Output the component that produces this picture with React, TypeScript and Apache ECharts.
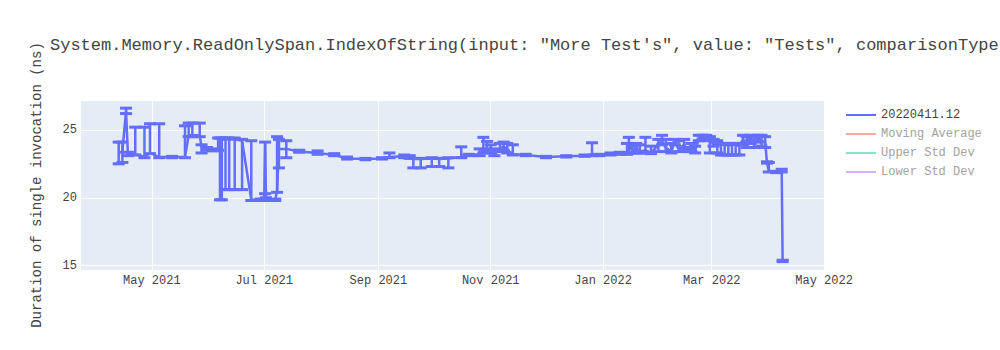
import React, { useEffect, useRef } from 'react';
import * as echarts from 'echarts';

const FONT = '"Liberation Mono", "Courier New", monospace';
const TITLE = 'System.Memory.ReadOnlySpan.IndexOfString(input: "More Test\'s", value: "Tests", comparisonType';
const Y_TITLE = 'Duration of single invocation (ns)';
const SERIES_NAMES = ['20220411.12', 'Moving Average', 'Upper Std Dev', 'Lower Std Dev'];
const SERIES_COLORS = ['#636efa', '#f7aa9d', '#80e6ca', '#d5b1fc'];
const MONTHS = ['Jan', 'Feb', 'Mar', 'Apr', 'May', 'Jun', 'Jul', 'Aug', 'Sep', 'Oct', 'Nov', 'Dec'];
const X_MIN = '2021-03-23';
const X_MAX = '2022-05-01T12:00';
const Y_MIN = 14.68;
const Y_MAX = 27.2;

const dates = [
  '2021-04-13', '2021-04-15', '2021-04-17', '2021-04-18', '2021-04-22', '2021-04-27', '2021-04-30',
  '2021-05-05', '2021-05-12', '2021-05-19', '2021-05-21', '2021-05-23', '2021-05-27', '2021-05-28', '2021-05-31',
  '2021-06-03', '2021-06-06', '2021-06-07', '2021-06-08', '2021-06-10', '2021-06-12', '2021-06-15', '2021-06-19', '2021-06-24', '2021-06-29',
  '2021-07-01', '2021-07-01T12:00', '2021-07-02', '2021-07-07', '2021-07-08', '2021-07-09', '2021-07-13', '2021-07-20', '2021-07-30',
  '2021-08-08', '2021-08-15', '2021-08-25',
  '2021-09-03', '2021-09-07', '2021-09-15', '2021-09-18', '2021-09-20', '2021-09-24', '2021-09-30',
  '2021-10-04', '2021-10-09', '2021-10-16', '2021-10-20', '2021-10-26', '2021-10-28', '2021-10-30',
  '2021-11-01', '2021-11-03', '2021-11-06', '2021-11-08', '2021-11-10', '2021-11-13', '2021-11-20',
  '2021-12-01', '2021-12-12', '2021-12-22', '2021-12-26', '2021-12-30',
  '2022-01-05', '2022-01-10', '2022-01-14', '2022-01-15', '2022-01-17', '2022-01-19', '2022-01-21', '2022-01-24', '2022-01-27', '2022-01-31',
  '2022-02-02', '2022-02-04', '2022-02-07', '2022-02-09', '2022-02-11', '2022-02-14', '2022-02-16', '2022-02-18', '2022-02-20', '2022-02-22', '2022-02-24', '2022-02-26', '2022-02-28',
  '2022-03-02', '2022-03-04', '2022-03-06', '2022-03-08', '2022-03-10', '2022-03-12', '2022-03-14', '2022-03-16', '2022-03-18', '2022-03-20', '2022-03-22', '2022-03-24', '2022-03-26', '2022-03-28', '2022-03-30', '2022-03-31',
  '2022-04-01', '2022-04-05', '2022-04-08', '2022-04-08T12:00',
];

const durations = [
  23.3, 23.4, 26.4, 23.2, 23.2, 23.0, 23.3,
  23.0, 23.0, 23.0, 24.6, 24.6, 24.6, 23.7, 23.6,
  23.5, 23.6, 24.3, 24.3, 24.3, 24.3, 24.3, 24.2, 19.85, 19.85,
  19.85, 24.0, 19.9, 19.85, 20.5, 23.6, 23.6, 23.4, 23.3,
  23.15, 22.9, 22.85,
  22.9, 23.0, 23.05, 23.0, 22.85, 22.85, 22.9,
  22.85, 22.9, 23.0, 23.15, 23.2, 23.5, 23.7,
  23.4, 23.2, 23.6, 23.8, 23.5, 23.2, 23.15,
  23.0, 23.05, 23.1, 23.2, 23.15,
  23.2, 23.25, 23.3, 23.9, 23.4, 23.7, 23.4, 23.5, 23.3, 23.9,
  24.2, 23.7, 23.4, 24.1, 23.6, 23.9, 23.5, 23.7, 23.5, 24.3, 24.5, 24.4, 24.3,
  23.9, 24.0, 23.9, 23.9, 23.85, 23.9, 23.9, 23.85, 24.3, 24.0, 24.4, 23.9, 24.4, 24.2, 24.1, 22.6,
  21.95, 21.9, 21.95, 15.35,
];

const errLow = [
  22.5, 22.6, 26.2, 23.1, 23.15, 22.95, 23.25,
  22.95, 22.95, 22.95, 24.5, 24.5, 24.5, 23.3, 23.5,
  23.45, 23.5, 19.85, 19.85, 20.6, 20.6, 20.6, 20.6, 19.8, 19.8,
  19.8, 20.3, 19.8, 19.8, 20.4, 22.2, 22.95, 23.35, 23.2,
  23.1, 22.85, 22.8,
  22.85, 22.95, 22.95, 22.9, 22.2, 22.2, 22.3,
  22.3, 22.2, 22.95, 23.1, 23.1, 23.3, 23.4,
  23.3, 23.1, 23.4, 23.5, 23.3, 23.15, 23.1,
  22.95, 23.0, 23.05, 23.1, 23.1,
  23.15, 23.2, 23.2, 23.3, 23.3, 23.3, 23.3, 23.3, 23.25, 23.4,
  23.9, 23.4, 23.3, 23.9, 23.4, 23.6, 23.4, 23.4, 23.3, 24.2, 24.3, 24.2, 23.3,
  23.8, 23.3, 23.15, 23.15, 23.15, 23.15, 23.15, 23.15, 23.9, 23.7, 24.0, 23.7, 24.1, 23.8, 23.7, 22.55,
  21.9, 21.85, 21.9, 15.3,
];

const errHigh = [
  24.1, 24.1, 26.6, 23.35, 25.2, 25.2, 25.45,
  25.45, 23.05, 25.3, 25.5, 25.5, 25.5, 23.9, 23.7,
  23.6, 24.4, 24.4, 24.4, 24.4, 24.4, 24.4, 24.3, 24.2, 19.9,
  19.9, 24.1, 20.0, 19.9, 24.5, 24.3, 24.2, 23.5, 23.45,
  23.25, 23.0, 22.9,
  22.95, 23.3, 23.15, 23.1, 22.9, 22.9, 22.95,
  22.9, 22.95, 23.75, 23.2, 23.6, 24.45, 24.15,
  23.9, 23.6, 24.0, 24.1, 24.0, 23.9, 23.2,
  23.05, 23.1, 23.15, 24.05, 23.2,
  23.3, 23.35, 24.0, 24.45, 23.8, 24.0, 23.9, 24.45, 23.8, 24.3,
  24.6, 24.3, 24.0, 24.3, 24.2, 24.3, 23.7, 24.0, 23.8, 24.6, 24.6, 24.6, 24.5,
  24.3, 24.2, 24.0, 24.0, 23.95, 24.0, 24.0, 24.0, 24.6, 24.5, 24.6, 24.4, 24.6, 24.6, 24.5, 22.65,
  22.6, 21.95, 22.1, 15.4,
];

function toTime(s: string): number {
  const [d, t] = s.split('T');
  const [y, m, day] = d.split('-').map(Number);
  const [hh, mm] = t ? t.split(':').map(Number) : [0, 0];
  return Date.UTC(y, m - 1, day, hh, mm);
}

export default function App() {
  const ref = useRef<HTMLDivElement>(null);

  useEffect(() => {
    const chart = echarts.init(ref.current!, null, { renderer: 'svg' });
    const blue = SERIES_COLORS[0];
    const lineData = dates.map((d, i) => [toTime(d), durations[i]]);
    const errData = dates.map((d, i) => [toTime(d), errLow[i], errHigh[i]]);

    const option: any = {
      animation: false,
      useUTC: true,
      backgroundColor: '#ffffff',
      textStyle: { fontFamily: FONT },
      title: {
        text: TITLE,
        left: 50,
        top: 37,
        padding: 0,
        textStyle: { fontFamily: FONT, fontSize: 17, fontWeight: 'normal', color: '#444' },
      },
      legend: {
        orient: 'vertical',
        left: 841,
        top: 104,
        itemWidth: 30,
        itemHeight: 2,
        itemGap: 7,
        icon: 'rect',
        selectedMode: false,
        textStyle: { fontFamily: FONT, fontSize: 12, color: '#444' },
        data: SERIES_NAMES.map((n, i) => ({
          name: n,
          textStyle: { color: i === 0 ? '#444' : '#a2a2a2' },
        })),
      },
      grid: {
        left: 80,
        right: 175,
        top: 100,
        bottom: 80,
        show: true,
        backgroundColor: '#E5ECF6',
        borderWidth: 0,
      },
      xAxis: {
        type: 'time',
        min: toTime(X_MIN),
        max: toTime(X_MAX),
        splitNumber: 6,
        axisLine: { show: false },
        axisTick: { show: false },
        splitLine: { show: true, lineStyle: { color: '#ffffff', width: 1 } },
        axisLabel: {
          showMinLabel: false,
          showMaxLabel: false,
          margin: 5,
          fontFamily: FONT,
          fontSize: 12,
          color: '#444',
          formatter: (v: number) => {
            const d = new Date(v);
            return MONTHS[d.getUTCMonth()] + ' ' + d.getUTCFullYear();
          },
        },
      },
      yAxis: {
        type: 'value',
        min: Y_MIN,
        max: Y_MAX,
        splitNumber: 3,
        axisLine: { show: false },
        axisTick: { show: false },
        splitLine: { show: true, lineStyle: { color: '#ffffff', width: 1 } },
        axisLabel: {
          showMinLabel: false,
          showMaxLabel: false,
          margin: 3,
          fontFamily: FONT,
          fontSize: 12,
          color: '#444',
        },
      },
      graphic: [
        {
          type: 'text',
          x: 37,
          y: 185,
          rotation: Math.PI / 2,
          style: {
            text: Y_TITLE,
            fontFamily: FONT,
            fontSize: 14,
            fill: '#444',
            align: 'center',
            verticalAlign: 'middle',
            textAlign: 'center',
            textVerticalAlign: 'middle',
          },
        },
      ],
      series: [
        {
          type: 'custom',
          name: 'errorbars',
          data: errData,
          encode: { x: 0, y: [1, 2] },
          z: 2,
          renderItem: (params: any, api: any) => {
            const t = api.value(0);
            const top = api.coord([t, api.value(2)]);
            const bot = api.coord([t, api.value(1)]);
            const w = 6;
            const style = { stroke: blue, lineWidth: 2.5, fill: 'none' };
            const capStyle = { stroke: blue, lineWidth: 3, fill: 'none' };
            return {
              type: 'group',
              children: [
                { type: 'line', shape: { x1: top[0], y1: top[1], x2: bot[0], y2: bot[1] }, style },
                { type: 'line', shape: { x1: top[0] - w, y1: top[1], x2: top[0] + w, y2: top[1] }, style: capStyle },
                { type: 'line', shape: { x1: bot[0] - w, y1: bot[1], x2: bot[0] + w, y2: bot[1] }, style: capStyle },
              ],
            };
          },
        },
        {
          type: 'line',
          name: SERIES_NAMES[0],
          data: lineData,
          showSymbol: false,
          symbol: 'none',
          color: blue,
          lineStyle: { color: blue, width: 2.5 },
          z: 3,
        },
        ...SERIES_NAMES.slice(1).map((n, i) => ({
          type: 'line',
          name: n,
          data: [],
          color: SERIES_COLORS[i + 1],
          lineStyle: { color: SERIES_COLORS[i + 1], width: 2 },
          showSymbol: false,
        })),
      ],
    };

    chart.setOption(option);
    return () => chart.dispose();
  }, []);

  return (
    <div
      ref={ref}
      style={{ position: 'absolute', left: 0, top: 0, width: 1000, height: 350 }}
    />
  );
}
